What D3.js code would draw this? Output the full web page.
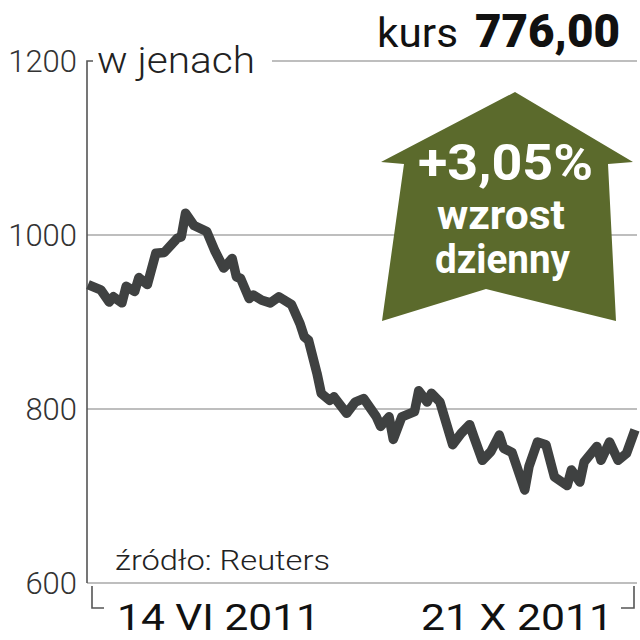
<!DOCTYPE html>
<html><head><meta charset="utf-8">
<script src="https://cdn.jsdelivr.net/npm/d3@7/dist/d3.min.js"></script>
<style>html,body{margin:0;padding:0;background:#fff;}svg{display:block;}</style>
</head><body>
<script>
const dates = ["2011-06-14","2011-06-16","2011-06-17","2011-06-19","2011-06-20","2011-06-22","2011-06-23","2011-06-25","2011-06-26","2011-06-28","2011-06-30",
"2011-07-02","2011-07-05","2011-07-06","2011-07-07","2011-07-09","2011-07-12","2011-07-14","2011-07-16","2011-07-18","2011-07-19","2011-07-20","2011-07-22","2011-07-23","2011-07-25","2011-07-27","2011-07-29",
"2011-08-01","2011-08-03","2011-08-04","2011-08-05","2011-08-07","2011-08-08","2011-08-10","2011-08-11","2011-08-14","2011-08-16","2011-08-18","2011-08-21","2011-08-22","2011-08-24","2011-08-25","2011-08-27","2011-08-30","2011-08-31",
"2011-09-02","2011-09-03","2011-09-05","2011-09-08","2011-09-10","2011-09-12","2011-09-13","2011-09-15","2011-09-17","2011-09-19","2011-09-20","2011-09-22","2011-09-25","2011-09-26","2011-09-28","2011-09-30",
"2011-10-02","2011-10-05","2011-10-06","2011-10-08","2011-10-09","2011-10-12","2011-10-13","2011-10-15","2011-10-17","2011-10-19","2011-10-21"];
const values = [943,939,937,923,929,922,941,935,951,943,979,
980,996,998,1025,1011,1004,981,962,973,952,950,927,931,925,922,929,
920,898,883,879,841,818,810,814,795,808,812,791,780,791,765,791,797,821,
808,818,808,759,772,782,768,741,751,770,755,750,707,734,762,759,
722,712,730,716,739,757,741,762,741,749,776];
const yTicks = [600, 800, 1000, 1200];
const xLabels = ["14 VI 2011", "21 X 2011"];
const unitLabel = "w jenach";
const kursLabel = "kurs";
const kursValue = "776,00";
const changeLabel = "+3,05%";
const changeText = ["wzrost", "dzienny"];
const sourceLabel = "źródło: Reuters";

const W = 640, H = 640;
const svg = d3.select("body").append("svg").attr("width", W).attr("height", H);
const parse = d3.timeParse("%Y-%m-%d");
const data = dates.map((d, i) => ({date: parse(d), value: values[i]}));

const x = d3.scaleTime().domain(d3.extent(data, d => d.date)).range([88, 635]);
const y = d3.scaleLinear().domain([600, 1200]).range([583, 61]);

const grid = "#a9a9a9";
// gridlines
yTicks.forEach(t => {
  const x0 = t === 1200 ? 272 : 87;
  svg.append("line").attr("x1", x0).attr("x2", 637)
    .attr("y1", y(t)).attr("y2", y(t))
    .attr("stroke", grid).attr("stroke-width", 1.6);
});
// y axis
svg.append("path").attr("d", `M93,${y(1200)}H87V${y(600)}`)
  .attr("fill", "none").attr("stroke", "#555").attr("stroke-width", 1.6);
// bottom brackets
svg.append("path").attr("d", `M92,586V608H104`).attr("fill","none").attr("stroke","#555").attr("stroke-width",1.6);
svg.append("path").attr("d", `M634,586V608H621`).attr("fill","none").attr("stroke","#555").attr("stroke-width",1.6);

// y tick labels
svg.selectAll("text.yt").data(yTicks).enter().append("text")
  .attr("x", 77).attr("y", d => y(d) + 11)
  .attr("text-anchor", "end")
  .attr("font-family", "Roboto").attr("font-weight", 300).attr("font-size", 31)
  .attr("fill", "#333").text(d => d);

// unit label
svg.append("text").attr("x", 97).attr("y", 73)
  .attr("font-family", "Roboto").attr("font-weight", 300).attr("font-size", 37)
  .attr("textLength", 158).attr("lengthAdjust", "spacingAndGlyphs")
  .attr("fill", "#222").text(unitLabel);

// kurs
svg.append("text").attr("x", 377).attr("y", 47)
  .attr("font-family", "Roboto").attr("font-weight", 400).attr("font-size", 41)
  .attr("textLength", 81).attr("lengthAdjust", "spacingAndGlyphs")
  .attr("fill", "#111").text(kursLabel);
svg.append("text").attr("x", 475).attr("y", 47)
  .attr("font-family", "Roboto").attr("font-weight", 900).attr("font-size", 46)
  .attr("textLength", 145).attr("lengthAdjust", "spacingAndGlyphs")
  .attr("fill", "#111").text(kursValue);

// arrow
const arrow = [[515,92],[633,162],[608,164],[616,321],[486,289],[382,321],[404,164],[381,162]];
svg.append("path").attr("d", d3.line()(arrow) + "Z").attr("fill", "#5b6a2c");
svg.append("text").attr("x", 418).attr("y", 180)
  .attr("font-family", "Roboto").attr("font-weight", 700).attr("font-size", 50)
  .attr("textLength", 175).attr("lengthAdjust", "spacingAndGlyphs")
  .attr("fill", "#fff").text(changeLabel);
svg.append("text").attr("x", 437).attr("y", 229)
  .attr("font-family", "Roboto").attr("font-weight", 700).attr("font-size", 41)
  .attr("textLength", 128).attr("lengthAdjust", "spacingAndGlyphs")
  .attr("fill", "#fff").text(changeText[0]);
svg.append("text").attr("x", 435).attr("y", 273)
  .attr("font-family", "Roboto").attr("font-weight", 700).attr("font-size", 41)
  .attr("textLength", 135).attr("lengthAdjust", "spacingAndGlyphs")
  .attr("fill", "#fff").text(changeText[1]);

// line
svg.append("path").datum(data)
  .attr("d", d3.line().x(d => x(d.date)).y(d => y(d.value)).curve(d3.curveLinear))
  .attr("fill", "none").attr("stroke", "#3f4141").attr("stroke-width", 9.5)
  .attr("stroke-linejoin", "round").attr("stroke-linecap", "butt");

// source
svg.append("text").attr("x", 115).attr("y", 570)
  .attr("font-family", "Roboto").attr("font-weight", 300).attr("font-size", 28)
  .attr("textLength", 215).attr("lengthAdjust", "spacingAndGlyphs")
  .attr("fill", "#222").text(sourceLabel);

// x labels
svg.append("text").attr("x", 117).attr("y", 630)
  .attr("font-family", "Roboto").attr("font-weight", 400).attr("font-size", 37)
  .attr("textLength", 203).attr("lengthAdjust", "spacingAndGlyphs")
  .attr("fill", "#111").text(xLabels[0]);
svg.append("text").attr("x", 421).attr("y", 630)
  .attr("font-family", "Roboto").attr("font-weight", 400).attr("font-size", 37)
  .attr("textLength", 192).attr("lengthAdjust", "spacingAndGlyphs")
  .attr("fill", "#111").text(xLabels[1]);
</script>
</body></html>
